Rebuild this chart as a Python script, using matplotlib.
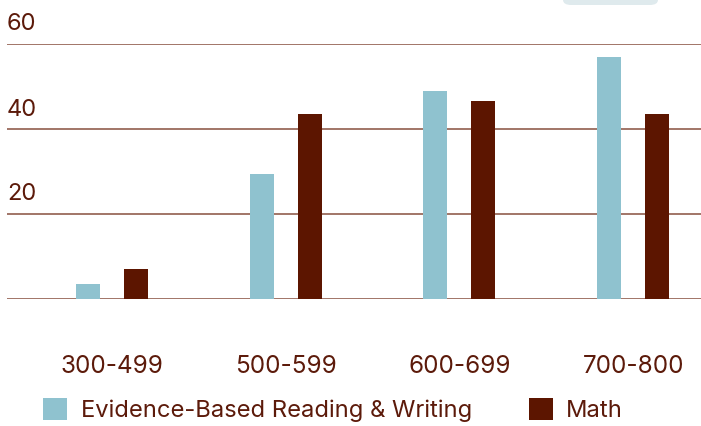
import numpy as np
import matplotlib
matplotlib.use("Agg")
import matplotlib.pyplot as plt
from matplotlib.patches import FancyBboxPatch

plt.rcParams['font.family'] = ['Inter', 'DejaVu Sans']

# ---------------------------------------------------------------------------
# Data
# ---------------------------------------------------------------------------
categories = ['300-499', '500-599', '600-699', '700-800']
ebrw = [3.5, 29.5, 49, 57]
math_scores = [7, 43.5, 46.5, 43.5]
yticks = [20, 40, 60]

TEXT = '#5c1a0a'
GRID = '#9a6a5c'
C_EBRW = '#8fc2cf'
C_MATH = '#5c1500'

W, H = 701, 426
fig = plt.figure(figsize=(W / 100, H / 100), dpi=100)

# faint decorative shape at the top right
fig.patches.append(FancyBboxPatch(
    (563 / W, 1 - 5 / H), 95 / W, 40 / H,
    boxstyle='round,pad=0,rounding_size=0.012',
    transform=fig.transFigure, facecolor='#dfeaed', edgecolor='none', zorder=0))

ax = fig.add_axes([7 / W, (H - 299) / H, (W - 7) / W, (299 - 44) / H])

x = np.arange(len(categories))
bw = 0.138
bars_e = ax.bar(x - bw, ebrw, width=bw, color=C_EBRW, zorder=3,
                label='Evidence-Based Reading & Writing')
bars_m = ax.bar(x + bw, math_scores, width=bw, color=C_MATH, zorder=3,
                label='Math')

ax.set_xlim(-0.603, 3.39)
ax.set_ylim(0, 60)
for s in ax.spines.values():
    s.set_visible(False)
ax.set_yticks([])
for v in [0] + yticks:
    ax.axhline(v, color=GRID, linewidth=1.3, zorder=1)
for v in yticks:
    ax.text(0, v + 2.0, str(v), transform=ax.get_yaxis_transform(),
            ha='left', va='bottom', fontsize=17, color=TEXT)

ax.set_xticks(x)
ax.set_xticklabels(categories, fontsize=17.5, color=TEXT)
ax.tick_params(axis='x', length=0, pad=40)

fig.legend(handles=[bars_e, bars_m], loc='center left',
           bbox_to_anchor=(43 / W, (H - 410) / H), ncol=2, frameon=False,
           fontsize=17.1, labelcolor=TEXT, handlelength=1.03, handleheight=1.03,
           handletextpad=0.55, columnspacing=2.4, borderpad=0, borderaxespad=0)

fig.savefig('out.png', dpi=100)
